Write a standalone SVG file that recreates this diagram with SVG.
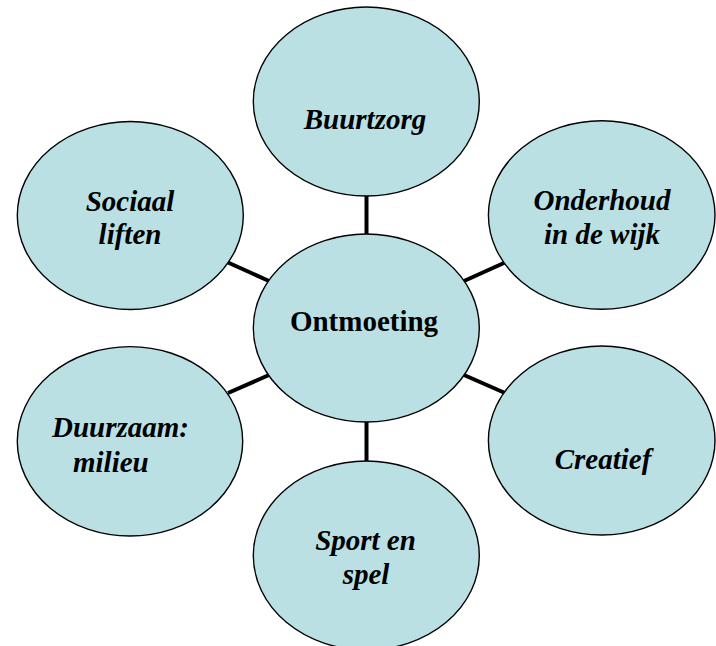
<svg xmlns="http://www.w3.org/2000/svg" width="716" height="646" viewBox="0 0 716 646">
<defs>
<style>
.n{fill:#bae0e3;stroke:#000;stroke-width:1.4}
.l{stroke:#000;stroke-width:4;fill:none}
</style>
</defs>
<rect width="716" height="646" fill="#fff"/>
<g id="connectors">
<line class="l" x1="366.5" y1="194" x2="366.5" y2="235"/>
<line class="l" x1="366.5" y1="421" x2="366.5" y2="462"/>
<line class="l" x1="228" y1="262.5" x2="269" y2="281"/>
<line class="l" x1="464" y1="281" x2="505" y2="262.5"/>
<line class="l" x1="228" y1="393" x2="269" y2="375"/>
<line class="l" x1="464" y1="375" x2="505" y2="393"/>
</g>
<g id="buurtzorg">
<ellipse class="n" cx="366.3" cy="101.5" rx="113" ry="94.5"/>
<text x="365" y="129" text-anchor="middle" font-family="Liberation Serif" font-size="29" font-weight="bold" font-style="italic">Buurtzorg</text>
</g>
<g id="onderhoud">
<ellipse class="n" cx="601.7" cy="215" rx="113.3" ry="94.3"/>
<text x="602" y="210" text-anchor="middle" font-family="Liberation Serif" font-size="29" font-weight="bold" font-style="italic">Onderhoud</text>
<text x="602" y="244" text-anchor="middle" font-family="Liberation Serif" font-size="29" font-weight="bold" font-style="italic">in de wijk</text>
</g>
<g id="sociaal">
<ellipse class="n" cx="130.3" cy="215.5" rx="113" ry="94"/>
<text x="130" y="210.5" text-anchor="middle" font-family="Liberation Serif" font-size="29" font-weight="bold" font-style="italic">Sociaal</text>
<text x="130" y="244" text-anchor="middle" font-family="Liberation Serif" font-size="29" font-weight="bold" font-style="italic">liften</text>
</g>
<g id="ontmoeting">
<ellipse class="n" cx="366.3" cy="328" rx="113" ry="94"/>
<text x="364" y="331" text-anchor="middle" font-family="Liberation Serif" font-size="29" font-weight="bold">Ontmoeting</text>
</g>
<g id="duurzaam">
<ellipse class="n" cx="130" cy="441.3" rx="112.7" ry="94.7"/>
<text x="52" y="437" font-family="Liberation Serif" font-size="29" font-weight="bold" font-style="italic">Duurzaam:</text>
<text x="73" y="471.5" font-family="Liberation Serif" font-size="29" font-weight="bold" font-style="italic">milieu</text>
</g>
<g id="creatief">
<ellipse class="n" cx="601.7" cy="440.5" rx="113.3" ry="94.5"/>
<text x="603" y="468.5" text-anchor="middle" font-family="Liberation Serif" font-size="29" font-weight="bold" font-style="italic">Creatief</text>
</g>
<g id="sport">
<ellipse class="n" cx="366.3" cy="555.5" rx="113" ry="94.5"/>
<text x="365.5" y="549.5" text-anchor="middle" font-family="Liberation Serif" font-size="29" font-weight="bold" font-style="italic">Sport en</text>
<text x="366" y="584" text-anchor="middle" font-family="Liberation Serif" font-size="29" font-weight="bold" font-style="italic">spel</text>
</g>
</svg>
